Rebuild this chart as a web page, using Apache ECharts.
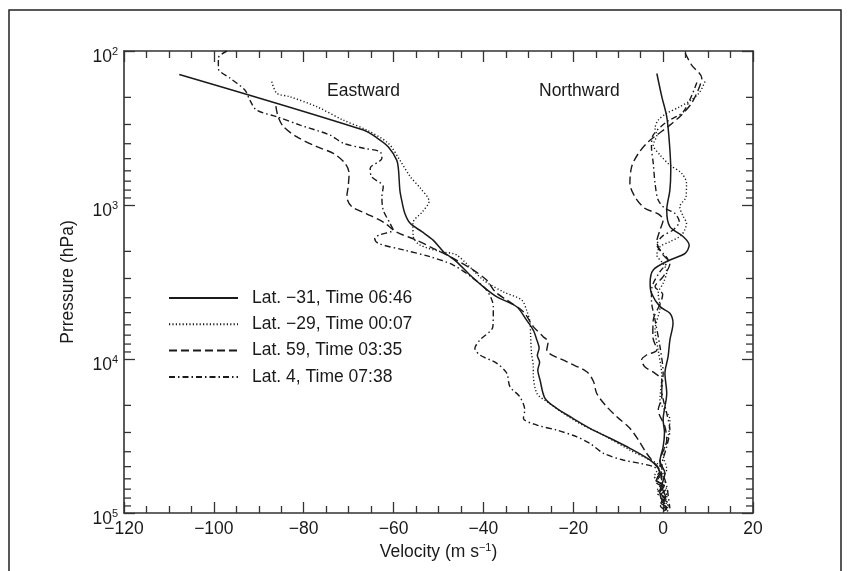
<!DOCTYPE html>
<html>
<head>
<meta charset="utf-8">
<script src="https://cdn.jsdelivr.net/npm/echarts/dist/echarts.min.js"></script>
<style>html,body{margin:0;padding:0;background:#fff;}#c{width:852px;height:571px;}</style>
</head>
<body>
<div id="c"></div>
<script>
// ---- data: [velocity (m/s), pressure (hPa)] ----
var legendNames = ['Lat. \u221231, Time 06:46', 'Lat. \u221229, Time 00:07', 'Lat. 59, Time 03:35', 'Lat. 4, Time 07:38'];
var xTicks = [-120, -100, -80, -60, -40, -20, 0, 20];
var yDecades = [100, 1000, 10000, 100000];
var yMinorTicks = [200,300,400,500,600,700,800,900,2000,3000,4000,5000,6000,7000,8000,9000,20000,30000,40000,50000,60000,70000,80000,90000];

var eastLatM31 = [[-107.7,142],[-66.7,326],[-63.5,370],[-61.2,418],[-59.3,511],[-58.9,593],[-58.6,800],[-58.2,929],[-57.5,1130],[-56.3,1316],[-53.7,1490],[-51.2,1690],[-48.9,2010],[-46.0,2330],[-43.0,2850],[-40.0,3400],[-37.0,3950],[-32.6,4580],[-30.4,5590],[-28.9,6490],[-28.1,7540],[-27.6,8500],[-28.0,9500],[-27.5,10500],[-27.9,11800],[-27.4,13700],[-26.3,18000],[-23.7,20900],[-20.7,23700],[-16.3,28200],[-11.8,32700],[-7.4,38000],[-2.9,45300],[-1.4,50000],[-0.7,55000],[-1.5,61000],[0.2,67000],[-0.8,74000],[0.5,80000],[-0.5,86000],[0.8,92000],[0.2,97000]];
var eastLatM29 = [[-87.1,158],[-86.0,188],[-83.1,198],[-77.1,230],[-71.2,281],[-66.0,326],[-61.2,397],[-58.6,511],[-56.3,654],[-54.0,780],[-52.1,946],[-53.5,1100],[-55.7,1315],[-55.6,1610],[-54.1,1820],[-49.5,2010],[-46.0,2110],[-40.0,3070],[-35.6,3660],[-31.5,4140],[-30.4,4810],[-29.6,5870],[-29.5,7000],[-29.3,9180],[-28.9,11200],[-28.9,12400],[-28.1,16700],[-25.9,18900],[-19.3,25500],[-13.3,31200],[-7.4,39000],[-3.7,44200],[-0.7,50000],[-1.8,56000],[0.5,62000],[-1.2,70000],[1.0,77000],[-0.3,84000],[1.2,90000],[0.5,96000]];
var eastLat59 = [[-86.2,228],[-85.7,267],[-84.5,310],[-81.6,360],[-77.1,418],[-73.4,462],[-70.8,536],[-69.9,622],[-70.1,760],[-70.4,883],[-69.3,1026],[-66.0,1140],[-62.3,1290],[-59.3,1500],[-54.9,1690],[-51.2,1910],[-46.7,2220],[-42.3,2640],[-39.3,3070],[-37.4,3660],[-34.8,4140],[-31.1,4930],[-28.9,6160],[-26.7,7160],[-25.6,7730],[-25.9,8750],[-21.5,10400],[-17.0,12100],[-15.5,14000],[-14.8,16700],[-12.9,19900],[-10.3,23700],[-7.4,28200],[-5.5,33600],[-3.7,40900],[-2.2,46500],[-1.1,50500],[-0.5,56000],[-1.6,63000],[0.6,70000],[-0.9,78000],[1.0,86000],[0.0,94000]];
var eastLat4 = [[-97.1,100],[-99.0,111],[-99.0,130],[-96.4,150],[-93.1,179],[-92.0,208],[-90.5,242],[-86.0,267],[-80.8,303],[-74.2,351],[-71.2,397],[-66.7,428],[-63.0,451],[-62.6,498],[-65.2,578],[-64.9,654],[-62.3,760],[-62.6,883],[-62.3,1077],[-60.8,1315],[-60.1,1452],[-63.0,1560],[-64.2,1644],[-63.4,1774],[-57.8,1958],[-51.9,2166],[-46.7,2455],[-42.3,2993],[-39.3,3565],[-37.8,4571],[-37.9,6164],[-40.8,7540],[-41.9,8530],[-40.8,9420],[-37.0,10670],[-34.8,12380],[-34.1,15130],[-31.9,17580],[-30.8,21440],[-31.1,24270],[-28.1,26850],[-23.7,28930],[-19.3,31960],[-16.3,35310],[-13.3,40930],[-8.9,45290],[-5.2,47580],[-2.2,50010],[-0.8,54000],[-2.0,60000],[0.3,67000],[-1.4,74000],[0.7,82000],[-0.6,90000],[1.4,98000]];

var northLatM31 = [[-1.4,140],[-0.3,198],[0.8,267],[1.4,397],[1.7,593],[1.5,800],[0.8,1077],[1.5,1383],[4.5,1607],[5.8,1820],[4.9,2061],[1.5,2275],[-2.2,2641],[-2.9,3224],[-2.6,3743],[-0.7,4570],[1.5,5050],[2.2,5865],[1.5,7540],[1.1,9660],[0.4,12390],[0.8,16700],[0.0,24890],[0.3,30000],[0.0,37150],[-0.7,46000],[0.4,55000],[-0.3,67450],[0.5,78000],[0.0,86500]];
var northLatM29 = [[9.3,158],[8.2,184],[6.3,208],[3.7,230],[0.8,254],[-1.1,281],[-1.8,318],[-1.4,351],[-2.2,408],[-0.7,473],[1.5,550],[4.1,622],[5.2,723],[5.1,883],[3.7,1026],[4.5,1191],[5.2,1315],[4.1,1567],[1.5,1730],[-0.7,1866],[-1.4,2113],[0.0,2400],[0.8,2710],[0.0,3224],[-1.1,3740],[-0.7,4570],[-1.8,6490],[-1.1,8750],[-0.3,13030],[-0.7,18450],[1.5,24890],[1.1,32000],[0.0,42000],[0.8,52000],[-0.4,62000],[1.0,72000],[0.2,82000],[1.5,91000]];
var northLat59 = [[4.9,103],[6.3,123],[8.6,150],[7.8,179],[6.3,219],[4.1,260],[1.5,303],[-1.4,351],[-3.3,388],[-5.5,462],[-7.0,563],[-7.4,723],[-6.3,883],[-4.1,1050],[-1.1,1143],[0.0,1250],[-0.7,1452],[-1.4,1730],[-0.3,2061],[1.5,2395],[0.0,2922],[-1.8,3397],[-0.1,3800],[-0.6,4345],[-2.2,5585],[-2.3,7161],[-1.4,8750],[-3.7,9420],[-4.8,10150],[-4.1,11210],[-1.8,12390],[-0.3,13680],[-0.3,17580],[-1.1,21440],[0.4,27480],[0.8,33570],[-0.7,46000],[-0.3,60000],[-0.7,75000],[0.8,95700]];
var northLat4 = [[7.5,160],[4.5,248],[0.8,288],[-2.2,351],[-2.6,418],[-2.2,536],[-1.8,723],[-1.1,929],[0.4,1050],[2.6,1133],[3.6,1283],[2.2,1452],[-0.3,1607],[-1.4,1820],[0.0,2061],[1.1,2275],[-0.7,2710],[-2.2,3224],[-2.6,3600],[-2.6,4140],[-1.8,5585],[-0.7,8320],[0.0,12390],[-0.3,15900],[0.8,22550],[1.5,28930],[0.8,37000],[-0.3,50000],[0.8,67000],[1.5,93300]];

// ---- styling ----
var FONT = '"Liberation Sans", Arial, Helvetica, sans-serif';
var INK = '#1a1a1a';
var lineTypes = ['solid', [1.2, 2.2], [8, 4], [6, 3, 1.5, 3]];
var lineWidths = [1.5, 1.4, 1.4, 1.4];
var eastSets = [eastLatM31, eastLatM29, eastLat59, eastLat4];
var northSets = [northLatM31, northLatM29, northLat59, northLat4];

var series = [];
function addLine(name, data, idx) {
  series.push({
    name: name, type: 'line', data: data, xAxisIndex: 0, yAxisIndex: 0,
    symbol: 'none', smooth: 0.3, animation: false, silent: true,
    lineStyle: { color: INK, width: lineWidths[idx], type: lineTypes[idx] },
    itemStyle: { color: INK }
  });
}
for (var i = 0; i < 4; i++) { addLine(legendNames[i], eastSets[i], i); }
for (var j = 0; j < 4; j++) { addLine(legendNames[j], northSets[j], j); }

// minor ticks of the log pressure axis (left and right frame), placed through the axis scale
series.push({
  type: 'custom', xAxisIndex: 0, yAxisIndex: 0, silent: true, animation: false, clip: false, z: 5,
  data: yMinorTicks.map(function (v) { return [xTicks[0], v]; }),
  encode: { x: 0, y: 1 },
  renderItem: function (params, api) {
    var v = api.value(1);
    var pL = api.coord([xTicks[0], v]);
    var pR = api.coord([xTicks[xTicks.length - 1], v]);
    var st = { stroke: '#333', lineWidth: 1.3 };
    return { type: 'group', children: [
      { type: 'line', shape: { x1: pL[0], y1: pL[1], x2: pL[0] + 7, y2: pL[1] }, style: st },
      { type: 'line', shape: { x1: pR[0] - 7, y1: pR[1], x2: pR[0], y2: pR[1] }, style: st }
    ]};
  }
});

var axisLineStyle = { show: true, onZero: false, lineStyle: { color: '#333', width: 1.6 } };
var tickStyle = { show: true, inside: true, length: 11, lineStyle: { color: '#333', width: 1.3 } };
var minorStyle = { show: true, splitNumber: 4, length: 7, lineStyle: { color: '#333', width: 1.3 } };

function xAx(pos, showLabel) {
  return {
    type: 'value', position: pos, min: xTicks[0], max: xTicks[xTicks.length - 1], interval: 20,
    axisLine: axisLineStyle, axisTick: tickStyle, minorTick: minorStyle,
    splitLine: { show: false },
    axisLabel: { show: showLabel, margin: 7, fontSize: 17.5, color: INK, fontFamily: FONT,
      formatter: function (v) { return v < 0 ? '\u2212' + Math.abs(v) : String(v); } },
    name: showLabel ? 'Velocity (m s{s|\u22121})' : '', nameLocation: 'middle', nameGap: 27,
    nameTextStyle: { fontSize: 17.5, color: INK, fontFamily: FONT,
      rich: { s: { fontSize: 11, verticalAlign: 'top', color: INK, fontFamily: FONT } } }
  };
}
function yAx(pos, showLabel) {
  return {
    type: 'log', logBase: 10, position: pos, min: yDecades[0], max: yDecades[yDecades.length - 1], inverse: true,
    axisLine: axisLineStyle, axisTick: tickStyle, minorTick: { show: false },
    splitLine: { show: false },
    axisLabel: { show: showLabel, margin: 6, color: INK, fontFamily: FONT, padding: [10, 0, 0, 0],
      formatter: function (v) { return '{b|10}{s|' + Math.round(Math.log10(v)) + '}'; },
      rich: {
        b: { fontSize: 17.5, color: INK, fontFamily: FONT, lineHeight: 20, verticalAlign: 'bottom' },
        s: { fontSize: 11, color: INK, fontFamily: FONT, lineHeight: 12, verticalAlign: 'top' }
      } },
    name: showLabel ? 'Prressure (hPa)' : '', nameLocation: 'middle', nameGap: 47,
    nameTextStyle: { fontSize: 17.5, color: INK, fontFamily: FONT }
  };
}

var option = {
  backgroundColor: '#fff',
  animation: false,
  textStyle: { fontFamily: FONT },
  grid: { left: 124, top: 51, width: 629, height: 462, containLabel: false },
  xAxis: [xAx('bottom', true), xAx('top', false)],
  yAxis: [yAx('left', true), yAx('right', false)],
  legend: {
    data: legendNames, orient: 'vertical', left: 168, top: 289, padding: 0,
    itemWidth: 69, itemHeight: 14, itemGap: 8.3, selectedMode: false,
    itemStyle: { opacity: 0, borderWidth: 0 },
    textStyle: { fontSize: 17.5, color: INK, fontFamily: FONT, padding: [0, 0, 0, 9] }
  },
  graphic: [
    { type: 'rect', silent: true, z: -1, shape: { x: 9, y: 10, width: 832, height: 620 },
      style: { fill: 'none', stroke: '#222', lineWidth: 1.5 } },
    { type: 'text', silent: true, left: 327, top: 82,
      style: { text: 'Eastward', fontSize: 17.5, fill: INK, fontFamily: FONT } },
    { type: 'text', silent: true, left: 539, top: 82,
      style: { text: 'Northward', fontSize: 17.5, fill: INK, fontFamily: FONT } }
  ],
  series: series
};

var chart = echarts.init(document.getElementById('c'), null, { renderer: 'canvas' });
chart.setOption(option);
</script>
</body>
</html>
